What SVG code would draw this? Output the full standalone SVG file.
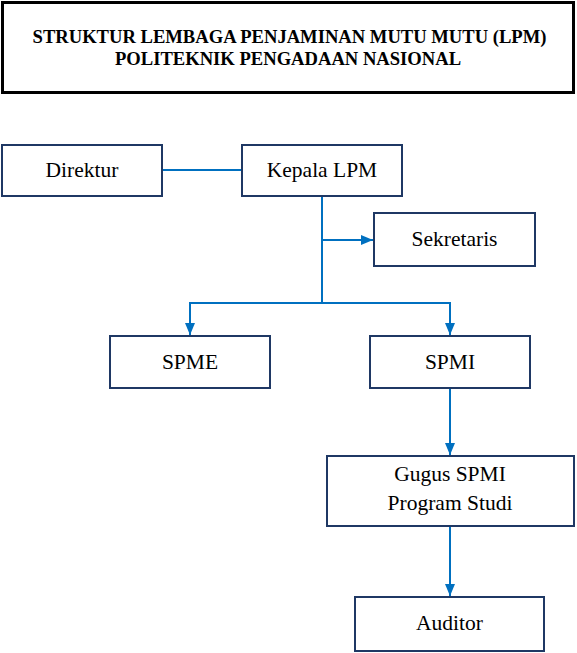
<svg xmlns="http://www.w3.org/2000/svg" width="577" height="653" viewBox="0 0 577 653">
<style>
.box{fill:#fff;stroke:#1F3864;stroke-width:2}
text{font-family:'Liberation Serif', 'Times New Roman', Times, 'DejaVu Serif', serif}
.t{font-size:21.5px;fill:#000;text-anchor:middle}
.title{font-size:18.6px;font-weight:bold;fill:#000;text-anchor:middle}
.c{fill:none;stroke:#0070C0;stroke-width:2}
</style>
<defs>
<marker id="ah" viewBox="0 0 12 10" refX="12" refY="5" markerWidth="12" markerHeight="10" markerUnits="userSpaceOnUse" orient="auto">
<path d="M0,0 L12,5 L0,10 Z" fill="#0070C0"/>
</marker>
</defs>
<g id="title">
<rect x="2.5" y="2.5" width="571" height="90" fill="#fff" stroke="#000" stroke-width="3"/>
<text class="title" x="289.5" y="43">STRUKTUR LEMBAGA PENJAMINAN MUTU MUTU (LPM)</text>
<text class="title" x="288" y="65">POLITEKNIK PENGADAAN NASIONAL</text>
</g>
<g id="connectors">
<path class="c" d="M162,170 H242"/>
<path class="c" d="M322,196 V303"/>
<path class="c" d="M322,240 H373" marker-end="url(#ah)"/>
<path class="c" d="M322,303 H190 V335" marker-end="url(#ah)"/>
<path class="c" d="M322,303 H450 V335" marker-end="url(#ah)"/>
<path class="c" d="M450,388 V455" marker-end="url(#ah)"/>
<path class="c" d="M450,526 V596" marker-end="url(#ah)"/>
</g>
<g id="direktur">
<rect class="box" x="2" y="145" width="160" height="51"/>
<text class="t" x="82" y="177">Direktur</text>
</g>
<g id="kepala">
<rect class="box" x="242" y="145" width="160" height="51"/>
<text class="t" x="322" y="177">Kepala LPM</text>
</g>
<g id="sekretaris">
<rect class="box" x="374" y="213" width="161" height="53"/>
<text class="t" x="454.5" y="246">Sekretaris</text>
</g>
<g id="spme">
<rect class="box" x="110" y="336" width="160" height="52"/>
<text class="t" x="190" y="369">SPME</text>
</g>
<g id="spmi">
<rect class="box" x="370" y="336" width="160" height="52"/>
<text class="t" x="450" y="369">SPMI</text>
</g>
<g id="gugus">
<rect class="box" x="327" y="456" width="247" height="70"/>
<text class="t" x="450" y="481">Gugus SPMI</text>
<text class="t" x="450" y="510">Program Studi</text>
</g>
<g id="auditor">
<rect class="box" x="355" y="597" width="189" height="54"/>
<text class="t" x="449.5" y="630">Auditor</text>
</g>
</svg>
